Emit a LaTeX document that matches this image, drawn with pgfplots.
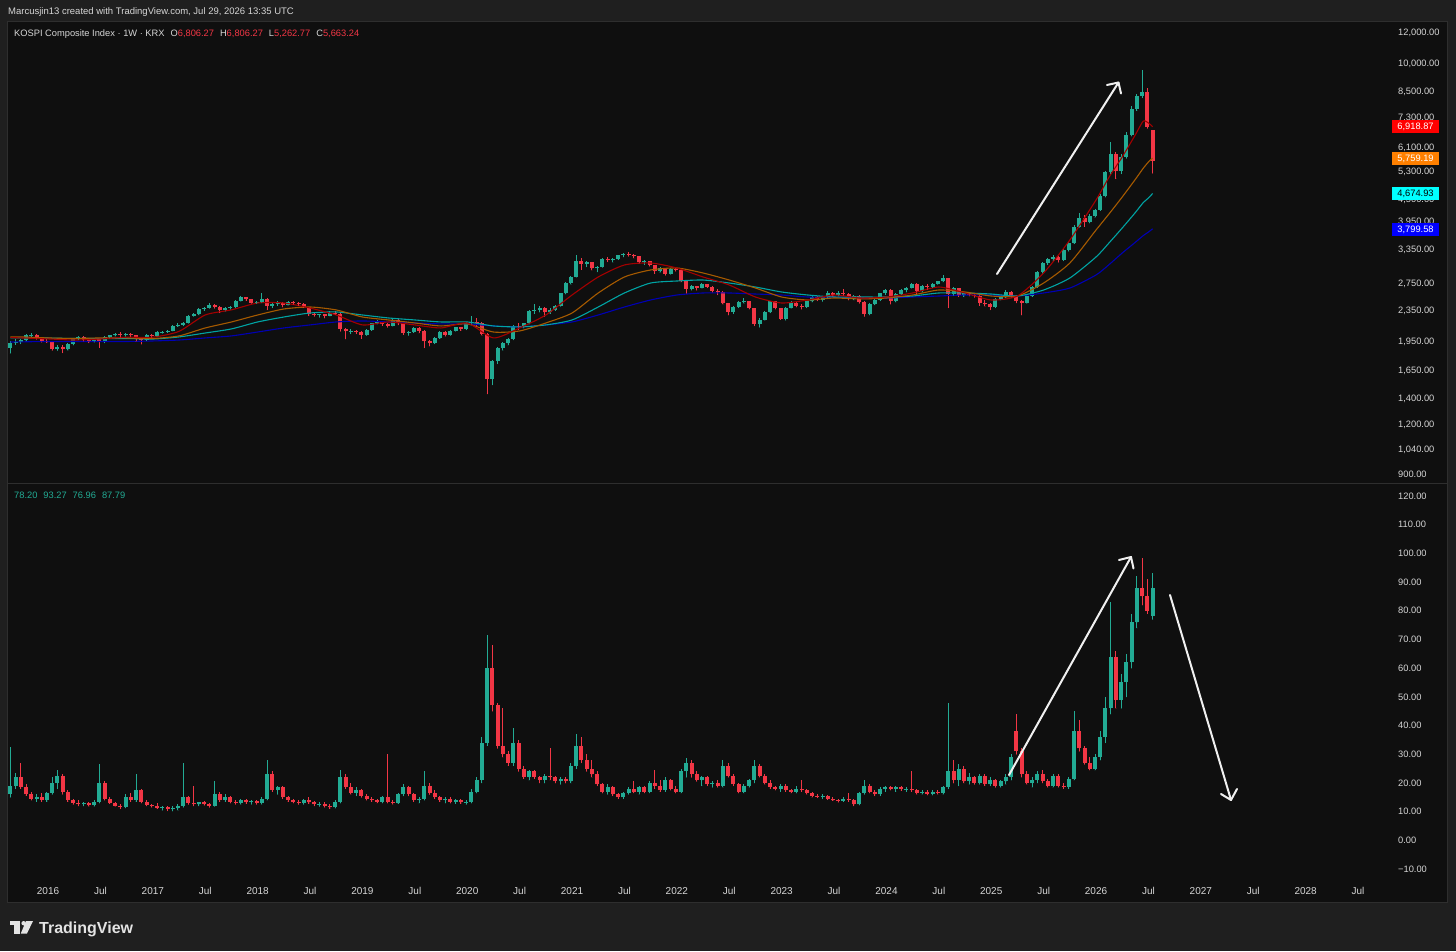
\documentclass[border=0pt]{standalone}
\usepackage{fontspec}
\setmainfont{Liberation Sans}
\usepackage{pgfplots}
\usepackage{pgfplotstable}
\pgfplotsset{compat=1.18}
\newcommand\fs[1]{\fontsize{#1}{#1}\selectfont}
\definecolor{bgout}{HTML}{1F1F1F}
\definecolor{bgin}{HTML}{0F0F0F}
\definecolor{frm}{HTML}{2E2E2E}
\definecolor{up}{HTML}{22AB94}
\definecolor{dn}{HTML}{F23645}
\definecolor{lbl}{HTML}{D6D6D6}
\definecolor{mared}{HTML}{A30000}
\definecolor{maor}{HTML}{A65A00}
\definecolor{macy}{HTML}{00A3A3}
\definecolor{mabl}{HTML}{0000B4}
\definecolor{boxred}{HTML}{FF0000}
\definecolor{boxor}{HTML}{FF8000}
\definecolor{boxcy}{HTML}{00FFFF}
\definecolor{boxbl}{HTML}{0000FF}
\definecolor{logo}{HTML}{E3E3E3}

\pgfplotstableread{
x o h l c
2015.64 1890 1960 1830 1945
2015.69 1945 1985 1925 1955
2015.74 1955 1990 1935 1975
2015.79 1975 2045 1965 2030
2015.84 2030 2060 2015 2040
2015.89 2040 2050 1985 2000
2015.94 2000 2010 1950 1965
2015.99 1965 1985 1945 1960
2016.04 1960 1965 1860 1880
2016.09 1880 1915 1860 1900
2016.14 1900 1920 1835 1870
2016.19 1870 1945 1860 1930
2016.24 1930 2000 1920 1990
2016.29 1990 2025 1980 2010
2016.34 2010 2020 1965 1980
2016.39 1980 1990 1945 1960
2016.44 1960 2000 1950 1990
2016.49 1990 2000 1890 1950
2016.54 1950 2020 1945 2010
2016.59 2010 2040 2000 2030
2016.64 2030 2065 2020 2045
2016.69 2045 2070 2010 2035
2016.74 2035 2060 2020 2050
2016.79 2050 2060 2015 2030
2016.84 2030 2040 1960 1990
2016.89 1990 2000 1930 1975
2016.94 1975 2045 1970 2030
2016.99 2030 2045 2010 2026
2017.04 2026 2080 2015 2070
2017.09 2070 2090 2055 2075
2017.14 2075 2100 2065 2090
2017.19 2090 2160 2085 2150
2017.24 2150 2180 2140 2160
2017.29 2160 2200 2150 2190
2017.34 2190 2290 2180 2280
2017.39 2280 2320 2270 2300
2017.44 2300 2380 2290 2370
2017.49 2370 2400 2350 2390
2017.54 2390 2450 2380 2430
2017.59 2430 2440 2380 2400
2017.64 2400 2410 2320 2360
2017.69 2360 2395 2340 2380
2017.74 2380 2410 2370 2395
2017.79 2395 2500 2390 2490
2017.84 2490 2560 2480 2540
2017.89 2540 2550 2490 2510
2017.94 2510 2520 2450 2460
2017.99 2460 2490 2450 2470
2018.04 2470 2610 2460 2520
2018.09 2520 2530 2360 2420
2018.14 2420 2460 2390 2440
2018.19 2440 2480 2420 2450
2018.24 2450 2465 2400 2430
2018.29 2430 2490 2425 2470
2018.34 2470 2480 2440 2460
2018.39 2460 2470 2420 2440
2018.44 2440 2450 2390 2400
2018.49 2400 2405 2280 2300
2018.54 2300 2320 2270 2290
2018.59 2290 2310 2260 2300
2018.64 2300 2305 2250 2280
2018.69 2280 2340 2275 2320
2018.74 2320 2340 2300 2310
2018.79 2310 2315 2080 2110
2018.84 2110 2120 1990 2080
2018.89 2080 2110 2050 2090
2018.94 2090 2100 2050 2070
2018.99 2070 2080 1995 2040
2019.04 2040 2110 2030 2100
2019.09 2100 2190 2090 2180
2019.14 2180 2230 2170 2200
2019.19 2200 2210 2150 2170
2019.24 2170 2190 2130 2150
2019.29 2150 2250 2145 2230
2019.34 2230 2240 2160 2180
2019.39 2180 2185 2040 2060
2019.44 2060 2080 2030 2070
2019.49 2070 2135 2065 2120
2019.54 2120 2130 2060 2090
2019.59 2090 2095 1890 1960
2019.64 1960 1975 1910 1940
2019.69 1940 2010 1935 2000
2019.74 2000 2080 1995 2070
2019.79 2070 2080 2020 2040
2019.84 2040 2100 2030 2090
2019.89 2090 2140 2080 2130
2019.94 2130 2140 2090 2110
2019.99 2110 2200 2100 2190
2020.04 2190 2275 2170 2200
2020.09 2200 2250 2140 2180
2020.14 2180 2200 2030 2050
2020.19 2050 2060 1440 1570
2020.24 1570 1760 1520 1750
2020.29 1750 1900 1720 1890
2020.34 1890 1950 1860 1940
2020.39 1940 2000 1920 1990
2020.44 1990 2160 1980 2150
2020.49 2150 2180 2100 2140
2020.54 2140 2190 2120 2180
2020.59 2180 2360 2170 2350
2020.64 2350 2440 2310 2360
2020.69 2360 2410 2330 2390
2020.74 2390 2400 2270 2330
2020.79 2330 2380 2310 2360
2020.84 2360 2430 2350 2420
2020.89 2420 2610 2410 2600
2020.94 2600 2780 2590 2770
2020.99 2770 2880 2740 2870
2021.04 2870 3260 2860 3150
2021.09 3150 3200 2990 3090
2021.14 3090 3150 3040 3120
2021.19 3120 3130 2980 3010
2021.24 3010 3060 2950 3040
2021.29 3040 3200 3030 3180
2021.34 3180 3220 3130 3160
2021.39 3160 3200 3120 3180
2021.44 3180 3260 3170 3250
2021.49 3250 3300 3220 3280
2021.54 3280 3310 3230 3260
2021.59 3260 3280 3200 3230
2021.64 3230 3240 3100 3120
2021.69 3120 3160 3080 3140
2021.74 3140 3150 3050 3070
2021.79 3070 3080 2920 2960
2021.84 2960 3030 2940 3010
2021.89 3010 3020 2890 2920
2021.94 2920 3020 2910 3000
2021.99 3000 3010 2960 2980
2022.04 2980 2990 2780 2800
2022.09 2800 2810 2600 2670
2022.14 2670 2730 2650 2710
2022.19 2710 2720 2650 2690
2022.24 2690 2760 2680 2740
2022.29 2740 2750 2690 2700
2022.34 2700 2710 2620 2640
2022.39 2640 2660 2580 2620
2022.44 2620 2630 2440 2450
2022.49 2450 2460 2290 2330
2022.54 2330 2410 2310 2400
2022.59 2400 2480 2390 2470
2022.64 2470 2530 2450 2480
2022.69 2480 2490 2370 2380
2022.74 2380 2390 2150 2170
2022.79 2170 2250 2130 2230
2022.84 2230 2340 2220 2330
2022.89 2330 2490 2320 2480
2022.94 2480 2490 2370 2380
2022.99 2380 2390 2230 2240
2023.04 2240 2400 2220 2390
2023.09 2390 2480 2380 2460
2023.14 2460 2470 2400 2420
2023.19 2420 2440 2370 2400
2023.24 2400 2490 2390 2480
2023.29 2480 2570 2470 2550
2023.34 2550 2560 2490 2500
2023.39 2500 2550 2480 2540
2023.44 2540 2640 2530 2610
2023.49 2610 2620 2550 2570
2023.54 2570 2630 2560 2610
2023.59 2610 2670 2570 2590
2023.64 2590 2600 2500 2520
2023.69 2520 2580 2500 2560
2023.74 2560 2570 2450 2470
2023.79 2470 2480 2270 2300
2023.84 2300 2450 2290 2440
2023.89 2440 2510 2430 2500
2023.94 2500 2610 2490 2600
2023.99 2600 2670 2580 2655
2024.04 2655 2660 2440 2480
2024.09 2480 2600 2470 2590
2024.14 2590 2670 2580 2650
2024.19 2650 2700 2620 2690
2024.24 2690 2760 2680 2750
2024.29 2750 2760 2590 2630
2024.34 2630 2730 2620 2720
2024.39 2720 2740 2660 2700
2024.44 2700 2760 2690 2750
2024.49 2750 2800 2740 2790
2024.54 2790 2890 2780 2840
2024.59 2840 2850 2390 2590
2024.64 2590 2700 2570 2680
2024.69 2680 2690 2550 2570
2024.74 2570 2620 2550 2600
2024.79 2600 2620 2560 2580
2024.84 2580 2600 2540 2560
2024.89 2560 2570 2420 2460
2024.94 2460 2500 2410 2440
2024.99 2440 2450 2360 2400
2025.04 2400 2530 2390 2520
2025.09 2520 2560 2500 2540
2025.14 2540 2650 2530 2620
2025.19 2620 2640 2540 2560
2025.24 2560 2570 2460 2480
2025.29 2480 2500 2290 2460
2025.34 2460 2570 2450 2560
2025.39 2560 2710 2550 2700
2025.44 2700 2960 2690 2950
2025.49 2950 3120 2930 3100
2025.54 3100 3200 3080 3180
2025.59 3180 3250 3150 3220
2025.64 3220 3240 3120 3160
2025.69 3160 3370 3150 3350
2025.74 3350 3520 3330 3500
2025.79 3500 3880 3480 3850
2025.84 3850 4180 3830 4050
2025.89 4050 4120 3850 3950
2025.94 3950 4150 3930 4100
2025.99 4100 4280 4060 4250
2026.04 4250 4650 4230 4600
2026.09 4600 5350 4580 5300
2026.14 5300 6340 5250 5900
2026.19 5900 5950 5100 5350
2026.24 5350 5900 5250 5800
2026.29 5800 6700 5750 6600
2026.34 6600 7800 6550 7700
2026.39 7700 8400 7600 8300
2026.44 8300 9640 8200 8500
2026.49 8500 8700 6850 6900
2026.54 6806.27 6806.27 5262.77 5663.24
}\kospi

\pgfplotstableread{
x r o c b
2015.64 2005 2013 2001 1954
2015.75 2001 2013 2001 1956
2016.00 1990 2001 2000 1960
2016.25 1977 1995 1995 1960
2016.50 1989 2001 1995 1960
2016.75 2010 2001 1995 1960
2017.00 2010 1995 1989 1966
2017.25 2080 2025 2013 1977
2017.50 2290 2122 2060 2001
2017.75 2360 2198 2110 2025
2018.00 2457 2290 2198 2072
2018.25 2457 2372 2263 2122
2018.50 2386 2400 2317 2160
2018.75 2290 2359 2331 2198
2019.00 2160 2263 2290 2211
2019.25 2198 2224 2250 2198
2019.50 2160 2185 2224 2185
2019.75 2122 2147 2198 2173
2020.00 2185 2173 2198 2173
2020.25 2001 2072 2147 2147
2020.50 2122 2085 2135 2135
2020.75 2290 2185 2160 2160
2021.00 2575 2317 2224 2198
2021.25 2863 2606 2400 2290
2021.50 3072 2863 2606 2400
2021.75 3108 2983 2763 2501
2022.00 3018 3018 2796 2575
2022.25 2863 2931 2812 2606
2022.50 2731 2812 2763 2606
2022.75 2545 2683 2699 2590
2023.00 2457 2545 2621 2575
2023.25 2501 2501 2575 2545
2023.50 2575 2530 2545 2545
2023.75 2530 2516 2545 2530
2024.00 2545 2530 2545 2530
2024.25 2606 2575 2560 2545
2024.50 2699 2652 2606 2560
2024.75 2606 2621 2606 2575
2025.00 2501 2560 2590 2575
2025.25 2560 2560 2560 2560
2025.50 2931 2763 2652 2606
2025.75 3557 3108 2846 2683
2026.00 4500 3773 3220 2897
2026.125 5150 4150 3500 3080
2026.25 5794 4580 3818 3296
2026.375 6600 5080 4180 3510
2026.45 7150 5420 4430 3650
2026.50 7073 5625 4553 3728
2026.54 6919 5759 4675 3800
}\mas

\pgfplotstableread{
x o h l c
2015.64 16 32.5 15 19
2015.69 19 23.5 18 22
2015.74 22 27 18 18.5
2015.79 18.5 19.5 15.5 16
2015.84 16 17 14 14.5
2015.89 14.5 16 13.5 15
2015.94 15 16.5 13.5 14
2015.99 14 17 13.5 16.5
2016.04 16.5 22 16 20
2016.09 20 24.5 18 22.5
2016.14 22.5 23 16 17
2016.19 17 17.5 13.5 14
2016.24 14 14.5 12.5 13
2016.29 13 14 12 12.5
2016.34 12.5 13.5 12 13
2016.39 13 13.5 11.8 12.2
2016.44 12.2 14 11.8 13.5
2016.49 13.5 26.5 13 20
2016.54 20 20.5 14 14.5
2016.59 14.5 15 12.8 13
2016.64 13 13.5 11.8 12
2016.69 12 12.5 11 11.5
2016.74 11.5 16 11.3 15
2016.79 15 16.5 13.5 14
2016.84 14 23 13.5 17.5
2016.89 17.5 18 13 13.5
2016.94 13.5 14 12 12.3
2016.99 12.3 12.8 11.5 11.8
2017.04 11.8 13 11 11.3
2017.09 11.3 12 10.5 11.5
2017.14 11.5 12 10.3 10.8
2017.19 10.8 11.8 10.2 11.2
2017.24 11.2 12.5 10.5 12
2017.29 12 27 11.5 15
2017.34 15 15.5 12.5 13
2017.39 13 19 12 12.5
2017.44 12.5 13.5 12 13.2
2017.49 13.2 13.8 12.2 12.5
2017.54 12.5 13 11.5 12
2017.59 12 20.5 11.8 16
2017.64 16 17 13.5 14
2017.69 14 16 13.5 15
2017.74 15 15.5 13 13.5
2017.79 13.5 14 12.5 13
2017.84 13 14.5 12.5 14
2017.89 14 14.5 12.8 13.2
2017.94 13.2 14 12.5 13.8
2017.99 13.8 14.2 12.5 13
2018.04 13 15 12.5 14.5
2018.09 14.5 28 14 23
2018.14 23 24 17 17.5
2018.19 17.5 19 16 18.5
2018.24 18.5 19 14.5 15
2018.29 15 15.5 13.5 14
2018.34 14 14.5 13 13.3
2018.39 13.3 14 12.5 13
2018.44 13 14.5 12.5 14
2018.49 14 15 12.8 13.2
2018.54 13.2 13.8 12 12.5
2018.59 12.5 13.5 11.8 12.8
2018.64 12.8 13.2 11.5 11.8
2018.69 11.8 12.5 11 11.5
2018.74 11.5 14 11.2 13.5
2018.79 13.5 24.6 13 22
2018.84 22 23 18 18.5
2018.89 18.5 20 16 16.5
2018.94 16.5 18.5 15.5 17.5
2018.99 17.5 18 15 15.5
2019.04 15.5 16 14 14.5
2019.09 14.5 15 13.5 14
2019.14 14 14.5 13 13.5
2019.19 13.5 15.5 13 15
2019.24 15 30 13 13.5
2019.29 13.5 14 12.5 13
2019.34 13 16.5 12.8 16
2019.39 16 19.5 15.5 18.5
2019.44 18.5 19 15.5 16
2019.49 16 16.5 13.5 14
2019.54 14 15 13 14.5
2019.59 14.5 24 14 19
2019.64 19 20 16 16.5
2019.69 16.5 17.5 14.5 15
2019.74 15 15.5 13.5 14
2019.79 14 15 13 14.5
2019.84 14.5 15 13 13.5
2019.89 13.5 14.5 12.8 14
2019.94 14 14.5 12.8 13.2
2019.99 13.2 14 12.5 13.5
2020.04 13.5 18 13 17
2020.09 17 22 16.5 21
2020.14 21 36 20 34
2020.19 34 71.5 33 60
2020.24 60 68 45 47
2020.29 47 48 32 33
2020.34 33 46 29 30
2020.39 30 31 26 27
2020.44 27 39 26 34
2020.49 34 35 24 25
2020.54 25 26 21.5 22
2020.59 22 24.5 21 24
2020.64 24 24.5 21.5 22
2020.69 22 22.5 20 21
2020.74 21 23 20 22.5
2020.79 22.5 32 21 22
2020.84 22 22.5 20 20.5
2020.89 20.5 22 19.5 21.5
2020.94 21.5 22 20 20.5
2020.99 20.5 27 20 26
2021.04 26 37 25 33
2021.09 33 36 27 28
2021.14 28 30 24 25
2021.19 25 28 22 23
2021.24 23 24 19 19.5
2021.29 19.5 20 16.5 17
2021.34 17 19.5 16 18.5
2021.39 18.5 19 15.5 16
2021.44 16 16.5 14.5 15
2021.49 15 17 14.5 16.5
2021.54 16.5 18.5 16 18
2021.59 18 20.5 16.5 17
2021.64 17 19 16 18.5
2021.69 18.5 19 16.5 17
2021.74 17 20.5 16.5 20
2021.79 20 24.4 18 19
2021.84 19 21 17 17.5
2021.89 17.5 22 17 21
2021.94 21 21.5 17.5 18
2021.99 18 19 16.5 17
2022.04 17 25 16.5 24
2022.09 24 28.8 22 27
2022.14 27 28 22 23
2022.19 23 24 20.5 21
2022.24 21 22.5 19 22
2022.29 22 22.5 19 19.5
2022.34 19.5 20.5 18.5 20
2022.39 20 21 18.5 19
2022.44 19 28 18.5 26
2022.49 26 27 22 22.5
2022.54 22.5 23 19 19.5
2022.59 19.5 20 16.5 17
2022.64 17 19.5 16.5 19
2022.69 19 21.5 18.5 21
2022.74 21 28 20 26
2022.79 26 26.5 22 22.5
2022.84 22.5 23 19.5 20
2022.89 20 21 18 18.5
2022.94 18.5 19 17.5 18
2022.99 18 19.5 17 19
2023.04 19 19.5 17 17.5
2023.09 17.5 18 16.5 17
2023.14 17 19 16.5 18
2023.19 18 21 17 17.5
2023.24 17.5 18 16 16.5
2023.29 16.5 17 15 15.5
2023.34 15.5 16 14.8 15.2
2023.39 15.2 16 14.5 15.5
2023.44 15.5 15.8 14.2 14.5
2023.49 14.5 15 13.8 14
2023.54 14 14.5 13.3 13.8
2023.59 13.8 15 13.5 14.5
2023.64 14.5 16.5 13.5 14
2023.69 14 14.5 12 12.5
2023.74 12.5 17 12.3 16.5
2023.79 16.5 21 16 19
2023.84 19 19.5 16.5 17
2023.89 17 17.5 15.5 16
2023.94 16 18.5 15.5 18
2023.99 18 19 17 18.5
2024.04 18.5 19 17.5 18
2024.09 18 19 17 18.5
2024.14 18.5 19 17.3 17.8
2024.19 17.8 18.5 17 18
2024.24 18 24 17 17.5
2024.29 17.5 18 16 16.5
2024.34 16.5 17.5 16 17
2024.39 17 17.5 15.8 16.2
2024.44 16.2 17.5 15.8 17
2024.49 17 17.5 16 16.5
2024.54 16.5 19 16 18.5
2024.59 18.5 48 18 24
2024.64 24 28 20 21
2024.69 21 26.5 19 25
2024.74 25 26 20 20.5
2024.79 20.5 23.5 19.5 22
2024.84 22 22.5 19.5 20
2024.89 20 23 19.5 22.5
2024.94 22.5 23 19 19.5
2024.99 19.5 22 19 21
2025.04 21 21.5 18.5 19
2025.09 19 21 18.5 20.5
2025.14 20.5 23 19.5 22
2025.19 22 30 21 29
2025.24 38 44 30 31
2025.29 31 32 22 23
2025.34 23 24 19.5 20
2025.39 20 22 18.5 21
2025.44 21 24 20 23
2025.49 23 24.5 20 20.5
2025.54 20.5 21.5 18.5 19
2025.59 19 23 18.5 22.5
2025.64 22.5 23 18.5 19
2025.69 19 20 18 18.5
2025.74 18.5 22 18 21.5
2025.79 21.5 45 21 38
2025.84 38 42 31 32
2025.89 32 33 26.5 27
2025.94 27 29 24.5 25
2025.99 25 30 24.5 29
2026.04 29 38 28 36
2026.09 36 50 34 46
2026.14 46 83 44 64
2026.19 64 66 46 49
2026.24 49 58 46 55
2026.29 55 65 50 62
2026.34 62 79 60 76
2026.39 76 92 74 88
2026.44 88 98.5 82 85
2026.49 85 91 79 80
2026.54 78.2 93.27 76.96 87.79
}\vk

\pgfplotsset{
  ebw/.style={only marks, mark=*, mark size=0.1pt, mark options={draw=none, fill=none},
    error bars/y dir=plus, error bars/y explicit, error bars/error mark=none,
    error bars/error bar style={line width=#1, line cap=butt}},
  tvaxis/.style={scale only axis, width=1382pt, xmin=2015.618, xmax=2028.805,
    axis line style={draw=none}, tick style={draw=none}, major tick length=0pt,
    yticklabel pos=right,
    yticklabel style={anchor=west, inner sep=0pt, xshift=8pt, font=\fs{9.3}, text=lbl},
    xticklabel style={anchor=north, inner sep=0pt, yshift=-9pt, font=\fs{10}, text=lbl},
  },
}

\begin{document}
\begin{tikzpicture}[x=1pt,y=1pt]
\useasboundingbox (0,0) rectangle (1456,951);
\fill[bgout] (0,0) rectangle (1456,951);
\begin{scope}[yshift=951pt,y=-1pt]
  \fill[bgin] (7.5,21.5) rectangle (1447.5,902.5);
  \draw[frm, line width=1pt] (7.5,21.5) rectangle (1447.5,902.5);
  \draw[frm, line width=1pt] (7.5,483.5) -- (1447.5,483.5);
\end{scope}

% ---------- top pane (log scale, values stored as prices) ----------
\begin{axis}[tvaxis, at={(8pt,468pt)}, anchor=south west, height=461pt,
  ymin=2.93122, ymax=4.10724, xtick=\empty,
  ytick={4.07918,4,3.92942,3.86332,3.78533,3.72428,3.65321,3.59660,3.52504,3.43933,3.37107,3.29003,3.21748,3.14613,3.07918,3.01703,2.95424},
  yticklabels={{12,000.00},{10,000.00},{8,500.00},{7,300.00},{6,100.00},{5,300.00},{4,500.00},{3,950.00},{3,350.00},{2,750.00},{2,350.00},{1,950.00},{1,650.00},{1,400.00},{1,200.00},{1,040.00},{900.00}},
]
\addplot[up, restrict expr to domain={\thisrow{c}-\thisrow{o}}{0:100000}, ebw=1pt]
  table[x=x, y expr={log10(\thisrow{l})}, y error plus expr={log10(\thisrow{h})-log10(\thisrow{l})}] {\kospi};
\addplot[up, restrict expr to domain={\thisrow{c}-\thisrow{o}}{0:100000}, ebw=4pt]
  table[x=x, y expr={log10(\thisrow{o})}, y error plus expr={log10(\thisrow{c})-log10(\thisrow{o})}] {\kospi};
\addplot[dn, restrict expr to domain={\thisrow{c}-\thisrow{o}}{-100000:-0.0001}, ebw=1pt]
  table[x=x, y expr={log10(\thisrow{l})}, y error plus expr={log10(\thisrow{h})-log10(\thisrow{l})}] {\kospi};
\addplot[dn, restrict expr to domain={\thisrow{c}-\thisrow{o}}{-100000:-0.0001}, ebw=4pt]
  table[x=x, y expr={log10(\thisrow{c})}, y error plus expr={log10(\thisrow{o})-log10(\thisrow{c})}] {\kospi};
\addplot[mabl, line width=1.1pt, smooth, tension=0.4] table[x=x, y expr={log10(\thisrow{b})}] {\mas};
\addplot[macy, line width=1.1pt, smooth, tension=0.4] table[x=x, y expr={log10(\thisrow{c})}] {\mas};
\addplot[maor, line width=1.1pt, smooth, tension=0.4] table[x=x, y expr={log10(\thisrow{o})}] {\mas};
\addplot[mared, line width=1.1pt, smooth, tension=0.4] table[x=x, y expr={log10(\thisrow{r})}] {\mas};
\end{axis}

% ---------- bottom pane ----------
\begin{axis}[tvaxis, at={(8pt,73pt)}, anchor=south west, height=393pt,
  ymin=-13.14, ymax=123.83,
  ytick={-10,0,10,20,30,40,50,60,70,80,90,100,110,120},
  yticklabels={{−10.00},{0.00},{10.00},{20.00},{30.00},{40.00},{50.00},{60.00},{70.00},{80.00},{90.00},{100.00},{110.00},{120.00}},
  xtick={2016,2016.5,2017,2017.5,2018,2018.5,2019,2019.5,2020,2020.5,2021,2021.5,2022,2022.5,2023,2023.5,2024,2024.5,2025,2025.5,2026,2026.5,2027,2027.5,2028,2028.5},
  xticklabels={2016,Jul,2017,Jul,2018,Jul,2019,Jul,2020,Jul,2021,Jul,2022,Jul,2023,Jul,2024,Jul,2025,Jul,2026,Jul,2027,Jul,2028,Jul},
]
\addplot[up, restrict expr to domain={\thisrow{c}-\thisrow{o}}{0:100000}, ebw=1pt]
  table[x=x, y=l, y error plus expr={\thisrow{h}-\thisrow{l}}] {\vk};
\addplot[up, restrict expr to domain={\thisrow{c}-\thisrow{o}}{0:100000}, ebw=4pt]
  table[x=x, y=o, y error plus expr={\thisrow{c}-\thisrow{o}}] {\vk};
\addplot[dn, restrict expr to domain={\thisrow{c}-\thisrow{o}}{-100000:-0.0001}, ebw=1pt]
  table[x=x, y=l, y error plus expr={\thisrow{h}-\thisrow{l}}] {\vk};
\addplot[dn, restrict expr to domain={\thisrow{c}-\thisrow{o}}{-100000:-0.0001}, ebw=4pt]
  table[x=x, y=c, y error plus expr={\thisrow{o}-\thisrow{c}}] {\vk};
\end{axis}

\begin{scope}[yshift=951pt,y=-1pt]
  % header and legends
  \node[anchor=base west, inner sep=0pt, text=lbl, font=\fs{9.5}] at (8,15) {Marcusjin13 created with TradingView.com, Jul 29, 2026 13:35 UTC};
  \node[anchor=base west, inner sep=0pt, font=\fs{9.3}] at (14,36.5) {\textcolor{lbl}{KOSPI Composite Index · 1W · KRX}\hspace{6pt}\textcolor{lbl}{O}\textcolor{dn}{6,806.27}\hspace{6pt}\textcolor{lbl}{H}\textcolor{dn}{6,806.27}\hspace{6pt}\textcolor{lbl}{L}\textcolor{dn}{5,262.77}\hspace{6pt}\textcolor{lbl}{C}\textcolor{dn}{5,663.24}};
  \node[anchor=base west, inner sep=0pt, text=up, font=\fs{9.3}] at (14,498.5) {78.20\hspace{6pt}93.27\hspace{6pt}76.96\hspace{6pt}87.79};
  % price boxes
  \node[fill=boxred, text=white, minimum width=47pt, minimum height=13pt, inner sep=0pt, font=\fs{9.3}] at (1415.5,127) {6,918.87};
  \node[fill=boxor, text=white, minimum width=47pt, minimum height=13pt, inner sep=0pt, font=\fs{9.3}] at (1415.5,158.5) {5,759.19};
  \node[fill=boxcy, text=black, minimum width=47pt, minimum height=13pt, inner sep=0pt, font=\fs{9.3}] at (1415.5,193.5) {4,674.93};
  \node[fill=boxbl, text=white, minimum width=47pt, minimum height=13pt, inner sep=0pt, font=\fs{9.3}] at (1415.5,229.5) {3,799.58};
  % arrows
  \begin{scope}[white!94!black, line width=2pt, line cap=round, line join=round]
    \draw (997,274) -- (1118.5,82.5);
    \draw (1107,85) -- (1118.5,82.5) -- (1121,93.5);
    \draw (1009,775) -- (1131,557);
    \draw (1119,560) -- (1131,557) -- (1133.5,568.5);
    \draw (1170,595) -- (1231,800);
    \draw (1221,794) -- (1231,800) -- (1237,789);
  \end{scope}
  % TradingView logo
  \fill[logo] (9.5,921) rectangle (20,925);
  \fill[logo] (14,921) rectangle (20,933.5);
  \fill[logo] (23.6,923.2) circle (2.2);
  \fill[logo] (26,921) -- (33,921) -- (27,933.5) -- (20.8,933.5) -- cycle;
  \node[anchor=base west, inner sep=0pt, text=logo, font=\fs{16}\bfseries] at (39,933.3) {TradingView};
\end{scope}
\end{tikzpicture}
\end{document}
